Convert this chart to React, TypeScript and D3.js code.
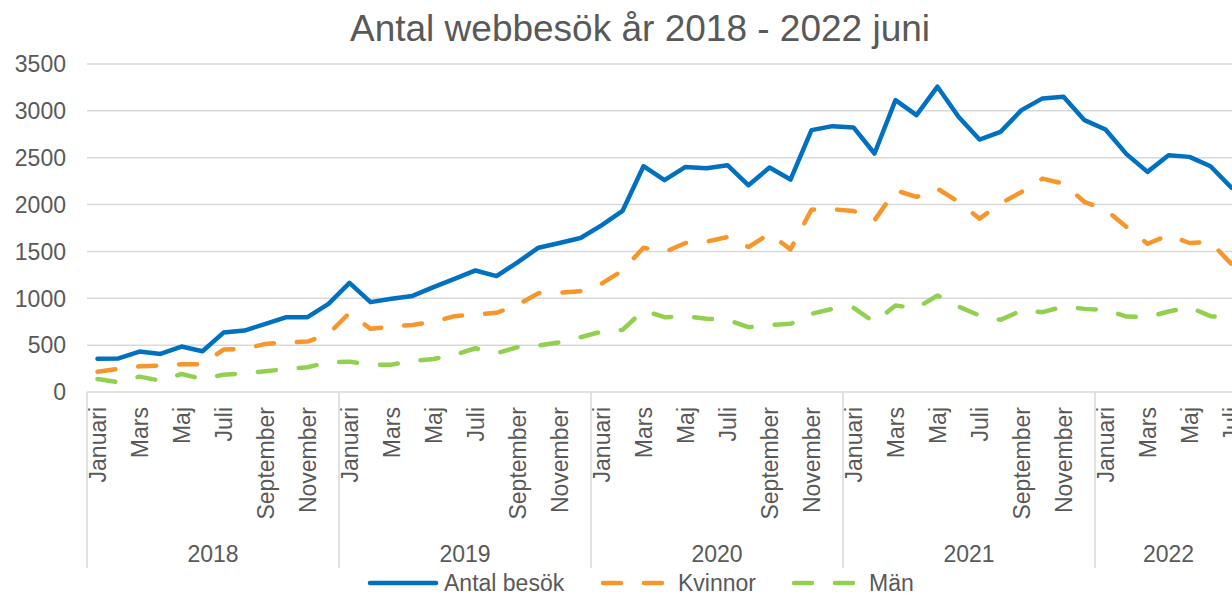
import React, { useRef, useEffect } from "react";
import * as d3 from "d3";

const monthNames = ["Januari", "Februari", "Mars", "April", "Maj", "Juni", "Juli", "Augusti", "September", "Oktober", "November", "December"];
const years = ["2018", "2019", "2020", "2021", "2022"];
const monthsPerYear = [12, 12, 12, 12, 7];

const antalBesok = [
  356, 358, 431, 406, 485, 435, 634, 656, 727, 798, 798, 941,
  1165, 959, 994, 1025, 1119, 1208, 1297, 1237, 1383, 1540, 1590, 1643,
  1778, 1932, 2409, 2260, 2402, 2388, 2420, 2206, 2395, 2267, 2794, 2837,
  2823, 2545, 3115, 2955, 3258, 2937, 2694, 2776, 3008, 3133, 3151, 2901,
  2801, 2538, 2349, 2527, 2509, 2409, 2180,
];
const kvinnor = [
  217, 246, 274, 282, 296, 296, 453, 460, 513, 531, 538, 620,
  845, 674, 699, 715, 750, 809, 827, 845, 930, 1055, 1058, 1076,
  1155, 1297, 1540, 1493, 1590, 1604, 1654, 1547, 1690, 1522, 1946, 1950,
  1932, 1832, 2153, 2081, 2170, 2028, 1850, 2010, 2135, 2277, 2224, 2028,
  1946, 1761, 1582, 1672, 1590, 1600, 1365,
];
const man = [
  139, 103, 164, 121, 192, 139, 185, 200, 221, 246, 264, 317,
  324, 292, 292, 330, 353, 396, 467, 413, 478, 495, 531, 584,
  645, 663, 870, 798, 809, 781, 770, 691, 716, 727, 834, 887,
  898, 745, 923, 895, 1030, 912, 816, 770, 870, 852, 912, 887,
  877, 805, 798, 859, 905, 809, 791,
];
const yTicks = [0, 500, 1000, 1500, 2000, 2500, 3000, 3500];

const series = [
  { name: "Antal besök", values: antalBesok, color: "#0070C0", dash: null },
  { name: "Kvinnor", values: kvinnor, color: "#F7962B", dash: "18 23" },
  { name: "Män", values: man, color: "#92D050", dash: "18 23" },
];

const App = () => {
  const svgRef = useRef(null);

  useEffect(() => {
    document.body.style.margin = "0";
    const svg = d3.select(svgRef.current);
    svg.selectAll("*").remove();

    const width = 1232, height = 595;
    const font = "'Liberation Sans', Arial, sans-serif";
    const textColor = "#595959";
    const n = antalBesok.length;

    // one band per month
    const x = d3.scaleBand()
      .domain(d3.range(n).map(String))
      .range([87, 87 + n * 21])
      .paddingInner(0).paddingOuter(0);
    const cx = i => x(String(i)) + x.bandwidth() / 2;

    const y = d3.scaleLinear().domain([0, 3500]).range([392, 64]);

    svg.attr("width", width).attr("height", height).style("font-family", font);

    // gridlines
    svg.append("g")
      .selectAll("line")
      .data(yTicks)
      .enter().append("line")
      .attr("x1", 87).attr("x2", width)
      .attr("y1", d => y(d)).attr("y2", d => y(d))
      .attr("stroke", "#D9D9D9").attr("stroke-width", 1.5);

    // y labels
    svg.append("g")
      .selectAll("text")
      .data(yTicks)
      .enter().append("text")
      .attr("x", 66).attr("y", d => y(d)).attr("dy", "0.36em")
      .attr("text-anchor", "end")
      .attr("font-size", 23).attr("fill", textColor)
      .text(d => d);

    // month labels (every other month)
    const monthIdx = [];
    let start = 0;
    monthsPerYear.forEach(count => {
      for (let m = 0; m < count; m += 2) monthIdx.push({ i: start + m, label: monthNames[m] });
      start += count;
    });
    svg.append("g")
      .selectAll("text")
      .data(monthIdx)
      .enter().append("text")
      .attr("transform", d => `translate(${cx(d.i) + 8},407) rotate(-90)`)
      .attr("text-anchor", "end")
      .attr("font-size", 23).attr("fill", textColor)
      .text(d => d.label);

    // year separators and labels
    const bounds = [0];
    monthsPerYear.forEach(c => bounds.push(bounds[bounds.length - 1] + c));
    svg.append("g")
      .selectAll("line")
      .data(bounds)
      .enter().append("line")
      .attr("x1", d => 87 + d * x.bandwidth()).attr("x2", d => 87 + d * x.bandwidth())
      .attr("y1", 392).attr("y2", 568)
      .attr("stroke", "#D9D9D9").attr("stroke-width", 1.5);

    svg.append("g")
      .selectAll("text")
      .data(years)
      .enter().append("text")
      .attr("x", (d, k) => 87 + ((bounds[k] + bounds[k + 1]) / 2) * x.bandwidth())
      .attr("y", 562)
      .attr("text-anchor", "middle")
      .attr("font-size", 23).attr("fill", textColor)
      .text(d => d);

    // lines
    const line = d3.line().x((d, i) => cx(i)).y(d => y(d));
    series.slice().reverse().forEach(s => {
      svg.append("path")
        .datum(s.values)
        .attr("d", line)
        .attr("fill", "none")
        .attr("stroke", s.color)
        .attr("stroke-width", 4.5)
        .attr("stroke-linejoin", "round")
        .attr("stroke-linecap", "round")
        .attr("stroke-dasharray", s.dash);
    });

    // title
    svg.append("text")
      .attr("x", 640).attr("y", 41)
      .attr("text-anchor", "middle")
      .attr("font-size", 37).attr("fill", textColor)
      .text("Antal webbesök år 2018 - 2022 juni");

    // legend
    const legendItems = [
      { s: series[0], x0: 370, x1: 436, tx: 444 },
      { s: series[1], x0: 603, x1: 665, tx: 678 },
      { s: series[2], x0: 794, x1: 856, tx: 869 },
    ];
    legendItems.forEach(it => {
      svg.append("line")
        .attr("x1", it.x0).attr("x2", it.x1)
        .attr("y1", 583).attr("y2", 583)
        .attr("stroke", it.s.color).attr("stroke-width", 4.5)
        .attr("stroke-linecap", "round")
        .attr("stroke-dasharray", it.s.dash);
      svg.append("text")
        .attr("x", it.tx).attr("y", 583).attr("dy", "0.36em")
        .attr("font-size", 23).attr("fill", textColor)
        .text(it.s.name);
    });
  }, []);

  return <svg ref={svgRef} style={{ display: "block" }} />;
};

export default App;
